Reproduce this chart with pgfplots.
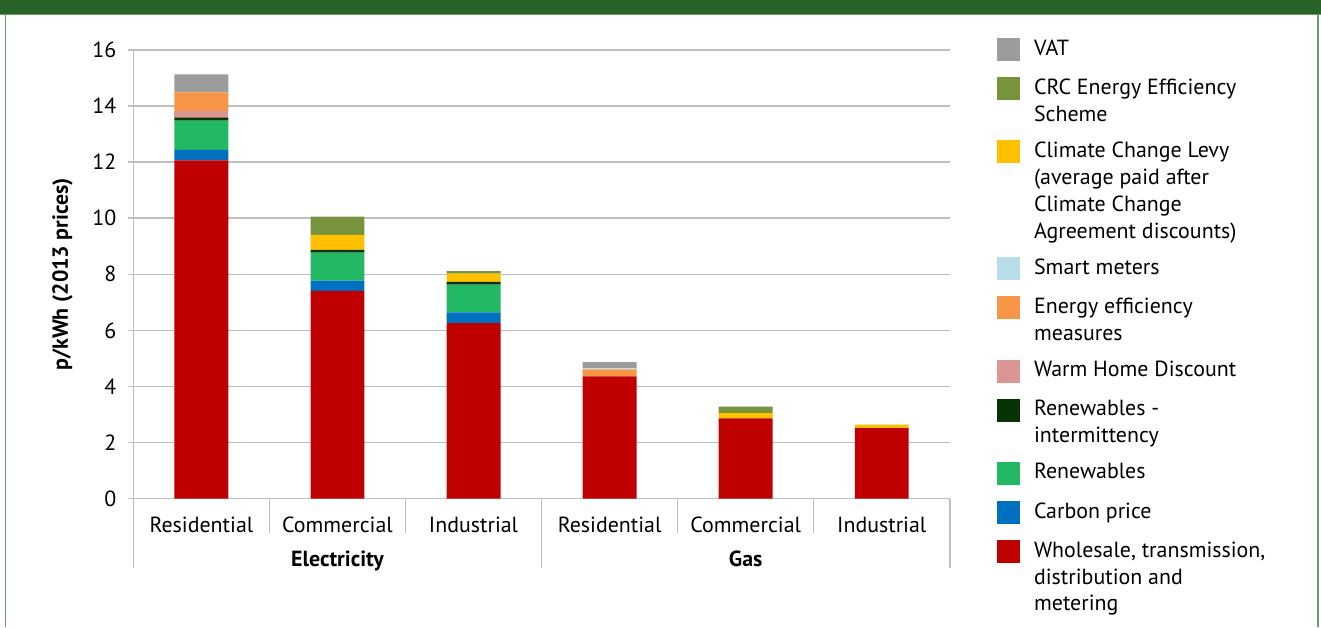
\documentclass[border=0pt]{standalone}
\usepackage{fontspec}
\setmainfont{PT Sans}
\usepackage{pgfplots}
\usepackage{pgfplotstable}
\pgfplotsset{compat=1.18}

\definecolor{cWhole}{HTML}{C00000}
\definecolor{cCarbon}{HTML}{0070C0}
\definecolor{cRenew}{HTML}{23B964}
\definecolor{cInter}{HTML}{063306}
\definecolor{cWarm}{HTML}{DA9694}
\definecolor{cEff}{HTML}{F79646}
\definecolor{cSmart}{HTML}{B7DEE8}
\definecolor{cCCL}{HTML}{FFC000}
\definecolor{cCRC}{HTML}{77933C}
\definecolor{cVAT}{HTML}{9C9C9C}
\definecolor{axisgray}{HTML}{BFBFBF}
\definecolor{hdrgreen}{HTML}{286428}
\definecolor{bordergreen}{HTML}{6A9C6A}

% p/kWh, 2013 prices; columns are stacked bottom to top
\pgfplotstableread{
x whole carbon renew inter warm eff smart ccl crc vat
0 12.06 0.38 1.04 0.11 0.23 0.67 0.00 0.00 0.00 0.64
1 7.41  0.36 1.00 0.10 0.00 0.00 0.00 0.54 0.65 0.00
2 6.26  0.38 0.99 0.10 0.00 0.00 0.00 0.29 0.09 0.00
3 4.36  0.00 0.00 0.00 0.00 0.25 0.05 0.00 0.00 0.21
4 2.86  0.00 0.00 0.00 0.00 0.00 0.00 0.19 0.23 0.00
5 2.51  0.00 0.00 0.00 0.00 0.00 0.00 0.13 0.00 0.00
}\costs

% swatch raised to the first line of a legend entry (#1 = lines above the last)
\pgfplotsset{
  myleg/.style={legend image code/.code={\fill[##1] (0bp,{#1*13.5bp-3bp}) rectangle (11.5bp,{#1*13.5bp+8.5bp});}},
  myleg/.default=0,
}
\newcommand{\txt}{\fontsize{11}{13.5}\selectfont}
% legend text, one or more lines, baseline on the last line
\newcommand{\ml}[1]{\begin{tabular}[b]{@{}l@{}}#1\end{tabular}}

\begin{document}
\begin{tikzpicture}
\fill[white] (0,0) rectangle (660.5bp,313.5bp);
\fill[hdrgreen] (0,306.5bp) rectangle (660.5bp,313.5bp);
\draw[bordergreen, line width=0.5bp] (0,306.3bp) -- (660.5bp,306.3bp);
\draw[bordergreen, line width=0.8bp] (2.6bp,0) -- (2.6bp,306.5bp);
\draw[bordergreen, line width=0.8bp] (659.1bp,0) -- (659.1bp,306.5bp);
\begin{axis}[
  at={(66.5bp,64bp)}, anchor=south west,
  scale only axis, width=408.5bp, height=224.5bp,
  xmin=-0.5, xmax=5.5, ymin=0, ymax=16,
  ytick={0,2,...,16},
  xtick={0,...,5},
  xticklabels={Residential,Commercial,Industrial,Residential,Commercial,Industrial},
  ybar stacked, bar width=27bp,
  axis x line*=bottom, axis y line*=left,
  axis line style={draw=axisgray, line width=0.75bp},
  ymajorgrids, grid style={draw=axisgray, line width=0.75bp},
  x tick style={draw=none},
  y tick style={draw=axisgray, line width=0.75bp},
  tick align=outside, major tick length=2.5bp,
  tick label style={font=\txt},
  /pgf/number format/assume math mode=true,
  xticklabel style={anchor=base, yshift=-14.3bp},
  yticklabel style={xshift=-2.5bp},
  ylabel={\bfseries p/kWh (2013 prices)},
  ylabel style={font=\txt, at={(axis description cs:-0.0869,0.5)}, anchor=center},
  clip=false,
  reverse legend,
  legend style={at={(1.0575,1.0312)}, anchor=north west, draw=none, fill=none,
    inner sep=0pt, column sep=7bp, row sep=7.2bp,
    nodes={anchor=base west, inner sep=0pt, font=\txt}},
]
\addplot[fill=cWhole, draw=none, myleg=2] table[x=x, y=whole]{\costs};
\addlegendentry{\ml{Wholesale, transmission,\\distribution and\\metering}}
\addplot[fill=cCarbon, draw=none, myleg] table[x=x, y=carbon]{\costs};
\addlegendentry{\ml{Carbon price}}
\addplot[fill=cRenew, draw=none, myleg] table[x=x, y=renew]{\costs};
\addlegendentry{\ml{Renewables}}
\addplot[fill=cInter, draw=none, myleg=1] table[x=x, y=inter]{\costs};
\addlegendentry{\ml{Renewables -\\intermittency}}
\addplot[fill=cWarm, draw=none, myleg] table[x=x, y=warm]{\costs};
\addlegendentry{\ml{Warm Home Discount}}
\addplot[fill=cEff, draw=none, myleg=1] table[x=x, y=eff]{\costs};
\addlegendentry{\ml{Energy efficiency\\measures}}
\addplot[fill=cSmart, draw=none, myleg] table[x=x, y=smart]{\costs};
\addlegendentry{\ml{Smart meters}}
\addplot[fill=cCCL, draw=none, myleg=3] table[x=x, y=ccl]{\costs};
\addlegendentry{\ml{Climate Change Levy\\(average paid after\\Climate Change\\Agreement discounts)}}
\addplot[fill=cCRC, draw=none, myleg=1] table[x=x, y=crc]{\costs};
\addlegendentry{\ml{CRC Energy Efficiency\\Scheme}}
\addplot[fill=cVAT, draw=none, myleg] table[x=x, y=vat]{\costs};
\addlegendentry{\ml{VAT}}
% category separators below the axis
\draw[axisgray, line width=0.75bp] (axis cs:0.5,0) -- ([yshift=-17bp]axis cs:0.5,0);
\draw[axisgray, line width=0.75bp] (axis cs:1.5,0) -- ([yshift=-17bp]axis cs:1.5,0);
\draw[axisgray, line width=0.75bp] (axis cs:3.5,0) -- ([yshift=-17bp]axis cs:3.5,0);
\draw[axisgray, line width=0.75bp] (axis cs:4.5,0) -- ([yshift=-17bp]axis cs:4.5,0);
\draw[axisgray, line width=0.75bp] (axis cs:-0.5,0) -- ([yshift=-34.5bp]axis cs:-0.5,0);
\draw[axisgray, line width=0.75bp] (axis cs:2.5,0) -- ([yshift=-34.5bp]axis cs:2.5,0);
\draw[axisgray, line width=0.75bp] (axis cs:5.5,0) -- ([yshift=-34.5bp]axis cs:5.5,0);
\node[font=\txt\bfseries, anchor=base] at ([yshift=-34bp]axis cs:1,0) {Electricity};
\node[font=\txt\bfseries, anchor=base] at ([yshift=-34bp]axis cs:4,0) {Gas};
\end{axis}
\end{tikzpicture}
\end{document}
